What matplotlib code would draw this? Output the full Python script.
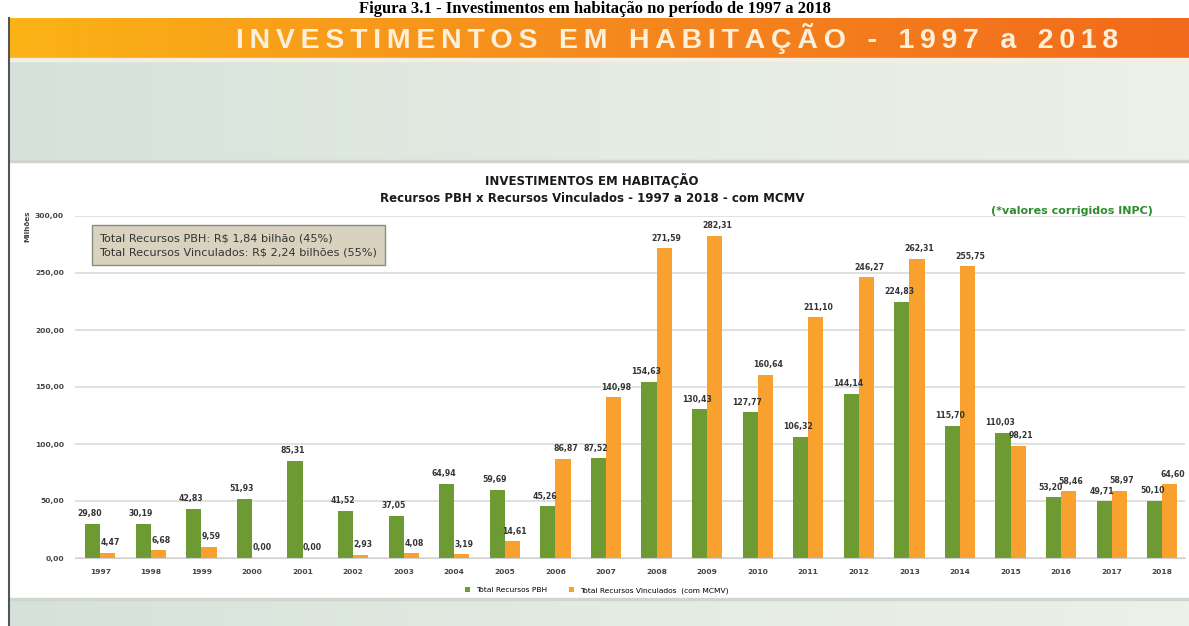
import numpy as np
import matplotlib
matplotlib.use("Agg")
import matplotlib.pyplot as plt
from matplotlib.patches import Rectangle

anos = ['1997', '1998', '1999', '2000', '2001', '2002', '2003', '2004', '2005', '2006', '2007',
        '2008', '2009', '2010', '2011', '2012', '2013', '2014', '2015', '2016', '2017', '2018']
recursos_pbh = [29.80, 30.19, 42.83, 51.93, 85.31, 41.52, 37.05, 64.94, 59.69, 45.26, 87.52,
                154.63, 130.43, 127.77, 106.32, 144.14, 224.83, 115.70, 110.03, 53.20, 49.71, 50.10]
recursos_vinc = [4.47, 6.68, 9.59, 0.00, 0.00, 2.93, 4.08, 3.19, 14.61, 86.87, 140.98,
                 271.59, 282.31, 160.64, 211.10, 246.27, 262.31, 255.75, 98.21, 58.46, 58.97, 64.60]
y_ticks = [0, 50, 100, 150, 200, 250, 300]

W, H = 1189, 626
fig = plt.figure(figsize=(W / 100, H / 100), dpi=100)
fig.patch.set_facecolor('white')

def fx(px):
    return px / W

def fy(py):
    return 1 - py / H

# fundo do slide
bg = fig.add_axes([0, 0, 1, 1], zorder=0)
bg.set_xlim(0, W)
bg.set_ylim(H, 0)
bg.axis('off')
# faixa laranja com degradê
grad = np.linspace(0, 1, 256).reshape(1, -1)
cmap_or = matplotlib.colors.LinearSegmentedColormap.from_list('or', ['#FBB316', '#F58A1F', '#F26A1B'])
bg.imshow(grad, extent=[10, W, 58, 18], aspect='auto', cmap=cmap_or, zorder=1)
# faixa verde clara
cmap_gr = matplotlib.colors.LinearSegmentedColormap.from_list('gr', ['#D5E2DA', '#E3EBE2', '#EDF1E7'])
bg.imshow(grad, extent=[10, W, 162, 58], aspect='auto', cmap=cmap_gr, zorder=1)
bg.add_patch(Rectangle((10, 58), W - 10, 3, color='#F4EFE2', zorder=2))
bg.add_patch(Rectangle((10, 160), W - 10, 2, color='#D0D6CE', zorder=2))
# rodapé
bg.imshow(grad, extent=[10, W, H, 600], aspect='auto', cmap=cmap_gr, zorder=1)
bg.add_patch(Rectangle((10, 598), W - 10, 2, color='#D0D6CE', zorder=2))
# borda esquerda
bg.plot([9, 9], [18, H], color='#555555', lw=1.5, zorder=3)

# legenda da figura no topo
fig.text(0.5, fy(13), 'Figura 3.1 - Investimentos em habitação no período de 1997 a 2018',
         ha='center', va='baseline', fontsize=12, fontweight='bold', family='Liberation Serif')

banner = '\u2009'.join('INVESTIMENTOS EM HABITAÇÃO - 1997 a 2018').replace(' \u2009', '  ')
fig.text(fx(677), fy(38), banner, ha='center', va='center', fontsize=20.5, fontweight='bold',
         color='#FDF0DA', family='Liberation Sans')

fig.text(fx(592), fy(181), 'INVESTIMENTOS EM HABITAÇÃO', ha='center', va='center',
         fontsize=8.5, fontweight='bold', color='#1A1A1A')
fig.text(fx(592), fy(198), 'Recursos PBH x Recursos Vinculados - 1997 a 2018 - com MCMV', ha='center',
         va='center', fontsize=8.5, fontweight='bold', color='#1A1A1A')
fig.text(fx(1072), fy(211), '(*valores corrigidos INPC)', ha='center', va='center',
         fontsize=8, fontweight='bold', color='#2E8B2E')

# gráfico
ax = fig.add_axes([fx(75), fy(558), fx(1110), fy(216) - fy(558)], zorder=2)
ax.set_facecolor('none')
x = np.arange(len(anos))
w = 0.3
verde = '#6E9A33'
laranja = '#F8A12E'
ax.bar(x - w / 2, recursos_pbh, w, color=verde, label='Total Recursos PBH')
ax.bar(x + w / 2, recursos_vinc, w, color=laranja, label='Total Recursos Vinculados  (com MCMV)')

def fmt(v):
    return f'{v:.2f}'.replace('.', ',')

for xi, v in zip(x, recursos_pbh):
    ax.text(xi - w / 2 - 0.05, v + 5, fmt(v), ha='center', va='bottom', fontsize=5.6,
            fontweight='bold', color='#333333')
for xi, v in zip(x, recursos_vinc):
    ax.text(xi + w / 2 + 0.05, v + 5, fmt(v), ha='center', va='bottom', fontsize=5.6,
            fontweight='bold', color='#333333')

ax.set_xlim(-0.5, 21.45)
ax.set_ylim(0, 300)
ax.set_yticks(y_ticks)
ax.set_yticklabels([fmt(t) for t in y_ticks], fontsize=5.4, fontweight='bold', color='#444444')
ax.set_xticks(x)
ax.set_xticklabels(anos, fontsize=5.4, fontweight='bold', color='#444444')
ax.tick_params(length=0, pad=8)
ax.grid(axis='y', color='#DADADA', lw=1.2)
ax.set_axisbelow(True)
for s in ['top', 'right', 'left']:
    ax.spines[s].set_visible(False)
ax.spines['bottom'].set_color('#D0D0D0')
ax.set_ylabel('Milhões', fontsize=5.2, fontweight='bold', color='#444444', labelpad=8)
ax.yaxis.set_label_coords(-0.04, 0.97)

ax.legend(loc='upper center', bbox_to_anchor=(0.47, -0.065), ncol=2, frameon=False,
          fontsize=5.4, handlelength=0.6, handleheight=0.6, columnspacing=3)

ax.text(0.022, 0.95, 'Total Recursos PBH: R$ 1,84 bilhão (45%)\nTotal Recursos Vinculados: R$ 2,24 bilhões (55%)',
        transform=ax.transAxes, ha='left', va='top', fontsize=8.1, color='#333333', linespacing=1.5,
        bbox=dict(boxstyle='square,pad=0.7', facecolor='#D8D2BF', edgecolor='#8A8A80', lw=1))

fig.savefig('out.png', dpi=100)
